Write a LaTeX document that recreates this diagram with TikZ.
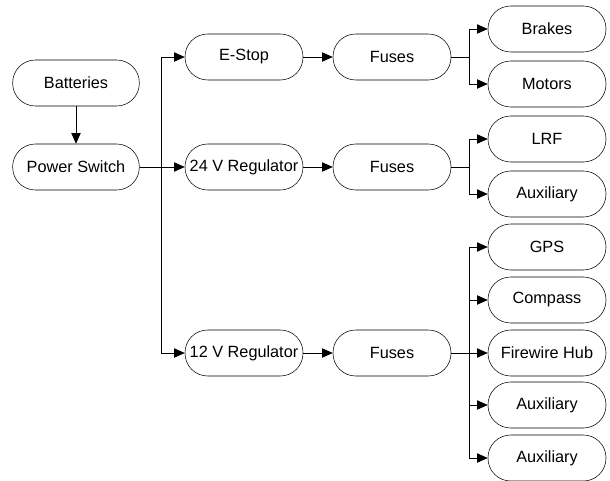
\documentclass[tikz,border=0pt]{standalone}
\usepackage{fontspec}
\setmainfont{Liberation Sans}
\usetikzlibrary{arrows.meta}

\begin{document}
\begin{tikzpicture}[x=0.75pt, y=-0.75pt,
    block/.style={draw, rounded corners=17pt, minimum width=88.5pt, minimum height=34.5pt, inner sep=1pt, align=center, font=\fontsize{12.2}{14}\selectfont},
    wide/.style={block, minimum width=95pt},
    link/.style={-{Triangle[length=8pt,width=7pt]}, line width=0.6pt}
]
    \useasboundingbox (0,0) rectangle (610,481);

    % Source
    \node[wide] (batteries) at (76,83) {Batteries};
    \node[wide] (switch) at (76,167) {Power Switch};

    % Regulators
    \node[block] (estop) at (244,57) {E-Stop};
    \node[block] (reg24) at (244,167) {24 V Regulator};
    \node[block] (reg12) at (244,353) {12 V Regulator};

    % Fuses
    \node[block] (fuses1) at (392,57) {Fuses};
    \node[block] (fuses2) at (392,167) {Fuses};
    \node[block] (fuses3) at (392,353) {Fuses};

    % Loads
    \node[block] (brakes) at (547,29) {Brakes};
    \node[block] (motors) at (547,84) {Motors};
    \node[block] (lrf) at (547,139) {LRF};
    \node[block] (aux1) at (547,194) {Auxiliary};
    \node[block] (gps) at (547,247) {GPS};
    \node[block] (compass) at (547,300) {Compass};
    \node[block] (hub) at (547,353) {Firewire Hub};
    \node[block] (aux2) at (547,405) {Auxiliary};
    \node[block] (aux3) at (547,458) {Auxiliary};

    % Branch points
    \coordinate (bus) at (161,167);
    \coordinate (split1) at (469,57);
    \coordinate (split2) at (469,167);
    \coordinate (split3) at (469,353);

    % Arrows
    \draw[link] (batteries) -- (switch);
    \draw[link] (switch) -- (reg24);
    \draw[link] (bus) |- (estop);
    \draw[link] (bus) |- (reg12);
    \draw[link] (estop) -- (fuses1);
    \draw[link] (reg24) -- (fuses2);
    \draw[link] (reg12) -- (fuses3);

    \draw[line width=0.6pt] (fuses1) -- (split1);
    \draw[link] (split1) |- (brakes);
    \draw[link] (split1) |- (motors);

    \draw[line width=0.6pt] (fuses2) -- (split2);
    \draw[link] (split2) |- (lrf);
    \draw[link] (split2) |- (aux1);

    \draw[link] (fuses3) -- (hub);
    \draw[link] (split3) |- (gps);
    \draw[link] (split3) |- (compass);
    \draw[link] (split3) |- (aux2);
    \draw[link] (split3) |- (aux3);
\end{tikzpicture}
\end{document}
